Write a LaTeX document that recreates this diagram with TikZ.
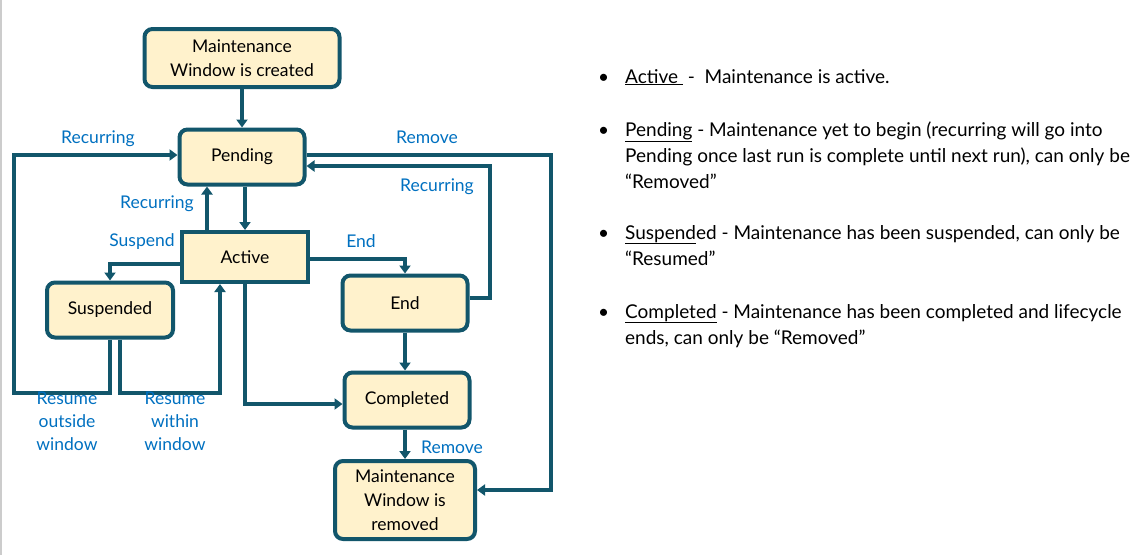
\documentclass[tikz,border=0pt]{standalone}
\usepackage{fontspec}
\setmainfont{Lato}
\usetikzlibrary{arrows.meta, positioning}
\definecolor{teal}{HTML}{12566B}
\definecolor{boxfill}{HTML}{FFF2CC}
\definecolor{lblue}{HTML}{0070C0}
\tikzset{
	x=1pt, y=-1pt,
	flow/.style={draw=teal, line width=3.5pt, -{Triangle[width=11pt,length=8pt]}}, % connectors
	state/.style={draw=teal, line width=4pt, fill=boxfill, rounded corners=8pt,
		align=center, font=\fontsize{17.5}{24}\selectfont}, % boxes
	lbl/.style={text=lblue, align=center, font=\fontsize{17.5}{23}\selectfont}, % edge labels
	txt/.style={anchor=base west, inner sep=0pt, font=\fontsize{19}{20}\selectfont}
}
\begin{document}
\begin{tikzpicture}
	\useasboundingbox (0,0) rectangle (1144,555);
	\draw[gray!40, line width=1.5pt] (1,0) -- (1,555);

	\node[state, minimum width=195pt, minimum height=58pt] (created) at (242,58) {Maintenance\\Window is created};
	\node[state, minimum width=125pt, minimum height=55pt] (pending) at (242,157) {Pending};
	\node[state, rounded corners=0pt, minimum width=126pt, minimum height=50pt] (active) at (245,257) {Active};
	\node[state, minimum width=126pt, minimum height=55pt] (susp) at (110,310) {Suspended};
	\node[state, minimum width=125pt, minimum height=55pt] (end) at (405,303) {End};
	\node[state, minimum width=125pt, minimum height=55pt] (compl) at (407,400) {Completed};
	\node[state, minimum width=140pt, minimum height=78pt] (removed) at (405,500) {Maintenance\\Window is\\removed};

	\coordinate (o1) at (110,393);
	\coordinate (o2) at (14,393);
	\coordinate (o3) at (14,155);
	\coordinate (w1) at (120,393);
	\coordinate (w2) at (220,393);
	\coordinate (s1) at (110,264);
	\coordinate (e1) at (405,259);
	\coordinate (r1) at (490,298);
	\coordinate (r2) at (490,166);
	\coordinate (m1) at (551,155);
	\coordinate (m2) at (551,490);
	\coordinate (c1) at (245,404);

	\draw[flow] (created) -- (pending);
	\draw[flow] (pending.south -| active) -- (active);
	\draw[flow] (active.north -| 207,0) -- (pending.south -| 207,0);
	\draw[flow] (susp.south -| o1) -- (o1) -- (o2) -- (o3) -- (pending.west |- o3);
	\draw[flow] (susp.south -| w1) -- (w1) -- (w2) -- (active.south -| w2);
	\draw[flow] (active.west |- s1) -- (s1) -- (susp.north -| s1);
	\draw[flow] (active.east |- e1) -- (e1) -- (end.north);
	\draw[flow] (end.east |- r1) -- (r1) -- (r2) -- (pending.east |- r2);
	\draw[flow] (pending.east |- m1) -- (m1) -- (m2) -- (removed.east |- m2);
	\draw[flow] (end) -- (end |- compl.north);
	\draw[flow] (active.south -| c1) -- (c1) -- (compl.west |- c1);
	\draw[flow] (compl.south -| 405,0) -- (removed.north -| 405,0);

	\node[lbl] (lrec1) at (98,139) {Recurring};
	\node[lbl] (lrec2) at (157,204) {Recurring};
	\node[lbl] (lrec3) at (437,187) {Recurring};
	\node[lbl] (lsusp) at (142,242) {Suspend};
	\node[lbl] (lend) at (361,241) {End};
	\node[lbl] (lrem1) at (427,137) {Remove};
	\node[lbl] (lrem2) at (452,447) {Remove};
	\node[lbl] (lout) at (67,421) {Resume\\outside\\window};
	\node[lbl] (lin) at (175,421) {Resume\\within\\window};

	% notes on the right
	\foreach \y in {83, 136, 239, 318}
		\node[txt] at (598,\y) {\textbullet};
	\node[txt] (n1) at (625,83) {\underline{Active\ }\ -\ \ Maintenance is active.};
	\node[txt] (n2) at (625,136) {\underline{Pending} - Maintenance yet to begin (recurring will go into};
	\node[txt] (n3) at (625,162) {Pending once last run is complete until next run), can only be};
	\node[txt] (n4) at (625,188) {“Removed”};
	\node[txt] (n5) at (625,239) {\underline{Suspend}ed - Maintenance has been suspended, can only be};
	\node[txt] (n6) at (625,265) {“Resumed”};
	\node[txt] (n7) at (625,318) {\underline{Completed} - Maintenance has been completed and lifecycle};
	\node[txt] (n8) at (625,344) {ends, can only be “Removed”};
\end{tikzpicture}
\end{document}
